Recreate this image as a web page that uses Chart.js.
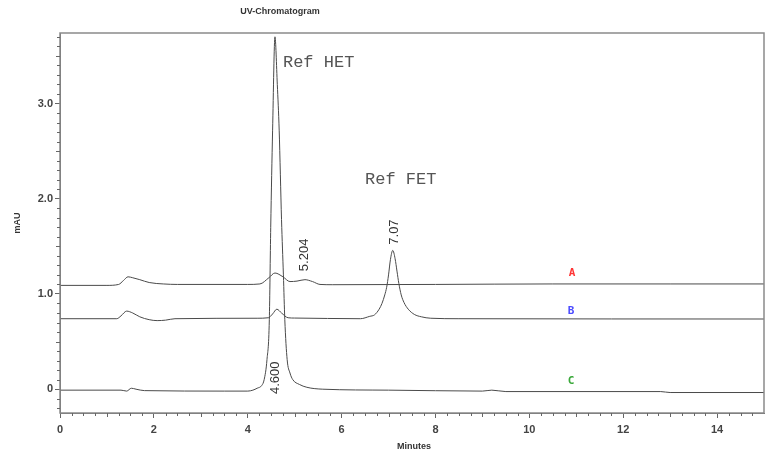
<!DOCTYPE html>
<html>
<head>
<meta charset="utf-8">
<title>UV-Chromatogram</title>
<script src="https://cdn.jsdelivr.net/npm/chart.js@4.4.0/dist/chart.umd.min.js"></script>
<style>
  html, body { margin: 0; padding: 0; background: #fff; }
  #grafico { display: block; }
</style>
</head>
<body>
<canvas id="grafico" width="767" height="456"></canvas>
<script>
// --- Dados (tempo em minutos, sinal em mAU) ---
const tempoA = [0, 1.0, 1.25, 1.35, 1.45, 1.55, 1.7, 1.9, 2.2, 2.5, 4.0, 4.26, 4.45, 4.58, 4.75, 4.9, 5.05, 5.22, 5.38, 5.54, 5.8, 8.0, 10.5, 13, 15];
const sinalA = [1.09, 1.09, 1.10, 1.14, 1.18, 1.17, 1.15, 1.12, 1.105, 1.10, 1.10, 1.105, 1.17, 1.22, 1.18, 1.13, 1.135, 1.15, 1.13, 1.10, 1.097, 1.10, 1.105, 1.105, 1.105];

const tempoB = [0, 1.21, 1.3, 1.42, 1.55, 1.7, 1.9, 2.07, 2.25, 2.45, 4.2, 4.44, 4.53, 4.62, 4.72, 4.86, 5.0, 6.4, 6.6, 6.7, 6.8, 6.86, 6.92, 6.96, 7.0, 7.04, 7.09, 7.14, 7.18, 7.22, 7.27, 7.33, 7.42, 7.55, 7.7, 7.9, 8.5, 15];
const sinalB = [0.74, 0.74, 0.77, 0.82, 0.80, 0.76, 0.73, 0.72, 0.725, 0.74, 0.745, 0.75, 0.79, 0.84, 0.80, 0.75, 0.747, 0.74, 0.765, 0.78, 0.84, 0.90, 0.99, 1.07, 1.20, 1.36, 1.457, 1.37, 1.24, 1.11, 0.99, 0.91, 0.84, 0.785, 0.76, 0.745, 0.74, 0.737];

const tempoC = [0, 1.3, 1.42, 1.52, 1.62, 1.8, 3.5, 4.0, 4.11, 4.2, 4.3, 4.35, 4.41, 4.46, 4.49, 4.53, 4.58, 4.63, 4.67, 4.72, 4.76, 4.79, 4.84, 4.9, 4.96, 5.1, 5.26, 5.6, 7.0, 9.0, 9.2, 9.5, 12.8, 13.0, 15];
const sinalC = [-0.01, -0.01, -0.02, 0.01, 0.0, -0.015, -0.02, -0.02, -0.01, 0.01, 0.04, 0.10, 0.31, 0.73, 1.70, 2.72, 3.70, 3.20, 2.72, 1.78, 1.20, 0.73, 0.31, 0.17, 0.10, 0.05, 0.02, 0.0, -0.01, -0.02, -0.01, -0.025, -0.025, -0.035, -0.035];

const ticksX = [0, 2, 4, 6, 8, 10, 12, 14];
const ticksY = [0, 1, 2, 3];

// --- Anotações (posição em unidades dos eixos) ---
const nomesPicos = [
  { texto: 'Ref HET', t: 4.75, v: 3.385 },
  { texto: 'Ref FET', t: 6.50, v: 2.157 }
];
const temposRetencao = [
  { texto: '5.204', t: 5.20, v: 1.41 },
  { texto: '7.07', t: 7.12, v: 1.65 },
  { texto: '4.600', t: 4.60, v: 0.12 }
];
const legendaTracos = [
  { texto: 'A', t: 10.91, v: 1.22, cor: '#ff3434' },
  { texto: 'B', t: 10.89, v: 0.82, cor: '#4b4bff' },
  { texto: 'C', t: 10.89, v: 0.08, cor: '#3aa83a' }
];

function montarPontos(tempos, sinais) {
  return tempos.map((t, i) => ({ x: t, y: sinais[i] }));
}

function serie(tempos, sinais) {
  return {
    data: montarPontos(tempos, sinais),
    borderColor: '#4a4a4a',
    borderWidth: 1,
    pointRadius: 0,
    cubicInterpolationMode: 'monotone'
  };
}

// --- Desenho extra: moldura, ticks menores, títulos e rótulos ---
const extras = {
  id: 'extras',
  afterDraw(chart) {
    const ctx = chart.ctx;
    const area = chart.chartArea;
    const sx = chart.scales.x;
    const sy = chart.scales.y;
    ctx.save();

    ctx.strokeStyle = '#8a8a8a';
    ctx.lineWidth = 1.5;
    ctx.strokeRect(area.left, area.top, area.right - area.left, area.bottom - area.top);

    ctx.strokeStyle = '#666';
    ctx.lineWidth = 1;
    ctx.beginPath();
    for (let k = -2; k <= 37; k++) {
      if (k % 10 === 0) continue;
      const y = Math.round(sy.getPixelForValue(k / 10)) + 0.5;
      const len = k % 5 === 0 ? 4 : 3;
      ctx.moveTo(area.left - len, y);
      ctx.lineTo(area.left, y);
    }
    for (let k = 1; k < 60; k++) {
      if (k % 8 === 0) continue;
      const x = Math.round(sx.getPixelForValue(k / 4)) + 0.5;
      const len = k % 4 === 0 ? 4 : 3;
      ctx.moveTo(x, area.bottom);
      ctx.lineTo(x, area.bottom + len);
    }
    ctx.stroke();

    ctx.fillStyle = '#333';
    ctx.font = 'bold 9px "Liberation Sans Narrow", "Liberation Sans", Arial';
    ctx.textAlign = 'center';
    ctx.textBaseline = 'middle';
    ctx.fillText('UV-Chromatogram', 280, 12);
    ctx.fillText('Minutes', (area.left + area.right) / 2 + 2, 447);
    ctx.save();
    ctx.translate(18, 223);
    ctx.rotate(-Math.PI / 2);
    ctx.fillText('mAU', 0, 0);
    ctx.restore();

    ctx.fillStyle = '#555';
    ctx.font = '17px "Liberation Mono", "Courier New", monospace';
    ctx.textAlign = 'left';
    ctx.textBaseline = 'alphabetic';
    nomesPicos.forEach(p => {
      ctx.fillText(p.texto, sx.getPixelForValue(p.t), sy.getPixelForValue(p.v));
    });

    ctx.fillStyle = '#333';
    ctx.font = '13px "Liberation Sans", Arial';
    ctx.textAlign = 'center';
    ctx.textBaseline = 'middle';
    temposRetencao.forEach(p => {
      ctx.save();
      ctx.translate(sx.getPixelForValue(p.t), sy.getPixelForValue(p.v));
      ctx.rotate(-Math.PI / 2);
      ctx.fillText(p.texto, 0, 0);
      ctx.restore();
    });

    ctx.font = 'bold 11px "DejaVu Sans Mono", monospace';
    legendaTracos.forEach(p => {
      ctx.fillStyle = p.cor;
      ctx.fillText(p.texto, sx.getPixelForValue(p.t), sy.getPixelForValue(p.v));
    });
    ctx.restore();
  }
};

const fonteTicks = { family: '"Liberation Sans", Arial', size: 11, weight: 'bold' };

new Chart(document.getElementById('grafico'), {
  type: 'line',
  data: {
    datasets: [
      serie(tempoA, sinalA),
      serie(tempoB, sinalB),
      serie(tempoC, sinalC)
    ]
  },
  options: {
    responsive: false,
    animation: false,
    layout: { padding: { top: 33, right: 3, left: 0, bottom: 0 } },
    plugins: {
      legend: { display: false },
      tooltip: { enabled: false }
    },
    scales: {
      x: {
        type: 'linear',
        min: 0,
        max: 15,
        afterBuildTicks: s => { s.ticks = ticksX.map(v => ({ value: v })); },
        afterFit: s => { s.height = 43; },
        ticks: { font: fonteTicks, color: '#444', padding: 5, maxRotation: 0, autoSkip: false },
        grid: { drawOnChartArea: false, tickLength: 5, color: '#666' },
        border: { color: '#666' }
      },
      y: {
        min: -0.25,
        max: 3.74,
        afterBuildTicks: s => { s.ticks = ticksY.map(v => ({ value: v })); },
        afterFit: s => { s.width = 60; },
        ticks: {
          font: fonteTicks,
          color: '#444',
          padding: 2,
          callback: v => (v === 0 ? '0' : v.toFixed(1))
        },
        grid: { drawOnChartArea: false, tickLength: 5, color: '#666' },
        border: { color: '#666' }
      }
    }
  },
  plugins: [extras]
});
</script>
</body>
</html>
